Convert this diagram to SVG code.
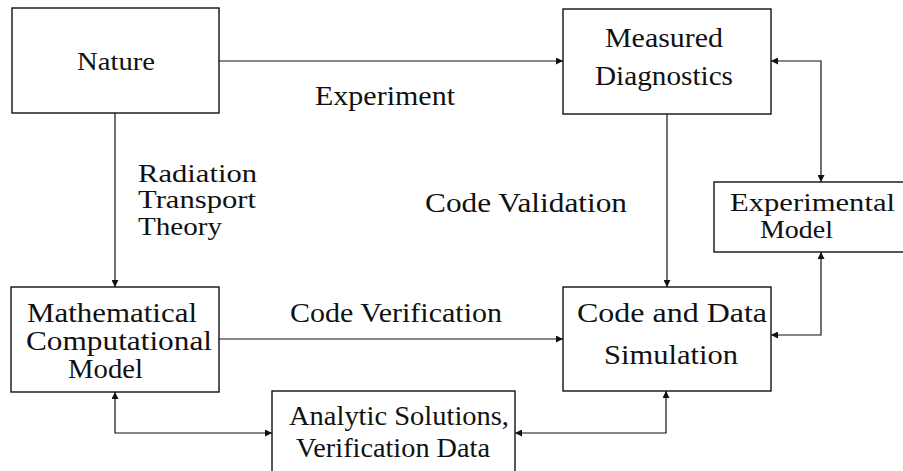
<svg xmlns="http://www.w3.org/2000/svg" width="903" height="471" viewBox="0 0 903 471">
  <style>
    .box { fill: #ffffff; stroke: #111111; stroke-width: 1.4; }
    .wire { fill: none; stroke: #111111; stroke-width: 1.2; }
    text { font-family: "Liberation Serif", "Times New Roman", serif; font-size: 28px; fill: #111111; }
    .small { font-size: 25px; }
    .snug { font-size: 25px; }
    .mid { font-size: 26px; }
  </style>
  <defs>
    <marker id="head" viewBox="0 0 10 10" refX="10" refY="5" markerWidth="9" markerHeight="7" markerUnits="userSpaceOnUse" orient="auto-start-reverse">
      <path d="M0,0 L10,5 L0,10 z" fill="#111111"/>
    </marker>
  </defs>

  <rect width="903" height="471" fill="#ffffff"/>

  <!-- connectors -->
  <g id="connectors">
    <path class="wire" d="M219,61 H563" marker-end="url(#head)"/>
    <path class="wire" d="M115,113 V287" marker-end="url(#head)"/>
    <path class="wire" d="M667,114 V287" marker-end="url(#head)"/>
    <path class="wire" d="M219,339 H563" marker-end="url(#head)"/>
    <path class="wire" d="M771,61 H821 V182" marker-start="url(#head)" marker-end="url(#head)"/>
    <path class="wire" d="M821,252 V335 H771" marker-start="url(#head)" marker-end="url(#head)"/>
    <path class="wire" d="M115,392 V433 H272" marker-start="url(#head)" marker-end="url(#head)"/>
    <path class="wire" d="M515,433 H666 V391" marker-start="url(#head)" marker-end="url(#head)"/>
  </g>

  <!-- edge labels -->
  <g id="labels">
    <text x="315" y="105" textLength="140" lengthAdjust="spacingAndGlyphs">Experiment</text>
    <text class="snug"><tspan x="138" y="182" textLength="119" lengthAdjust="spacingAndGlyphs">Radiation</tspan><tspan x="138" y="208" textLength="118" lengthAdjust="spacingAndGlyphs">Transport</tspan><tspan x="138" y="235" textLength="84" lengthAdjust="spacingAndGlyphs">Theory</tspan></text>
    <text x="425" y="212" textLength="202" lengthAdjust="spacingAndGlyphs">Code Validation</text>
    <text x="290" y="322" textLength="212" lengthAdjust="spacingAndGlyphs">Code Verification</text>
  </g>

  <g id="nature">
    <rect class="box" x="12" y="8" width="207" height="105"/>
    <text class="small" x="77" y="70" textLength="78" lengthAdjust="spacingAndGlyphs">Nature</text>
  </g>

  <g id="measured">
    <rect class="box" x="563" y="9" width="208" height="105"/>
    <text><tspan x="605" y="47" textLength="118" lengthAdjust="spacingAndGlyphs">Measured</tspan><tspan x="595" y="85" textLength="138" lengthAdjust="spacingAndGlyphs">Diagnostics</tspan></text>
  </g>

  <g id="experimental">
    <rect class="box" x="714" y="182" width="195" height="70"/>
    <text class="mid"><tspan x="730" y="211" textLength="165" lengthAdjust="spacingAndGlyphs">Experimental</tspan><tspan x="760" y="238" textLength="73" lengthAdjust="spacingAndGlyphs">Model</tspan></text>
  </g>

  <g id="mathematical">
    <rect class="box" x="11" y="287" width="208" height="105"/>
    <text><tspan x="27" y="322" textLength="170" lengthAdjust="spacingAndGlyphs">Mathematical</tspan><tspan x="26" y="350" textLength="186" lengthAdjust="spacingAndGlyphs">Computational</tspan><tspan x="68" y="378" textLength="75" lengthAdjust="spacingAndGlyphs">Model</tspan></text>
  </g>

  <g id="code">
    <rect class="box" x="563" y="287" width="208" height="104"/>
    <text><tspan x="577" y="322" textLength="190" lengthAdjust="spacingAndGlyphs">Code and Data</tspan><tspan x="604" y="364" textLength="134" lengthAdjust="spacingAndGlyphs">Simulation</tspan></text>
  </g>

  <g id="analytic">
    <rect class="box" x="272" y="391" width="243" height="90"/>
    <text><tspan x="289" y="425" textLength="220" lengthAdjust="spacingAndGlyphs">Analytic Solutions,</tspan><tspan x="296" y="457" textLength="194" lengthAdjust="spacingAndGlyphs">Verification Data</tspan></text>
  </g>
</svg>
